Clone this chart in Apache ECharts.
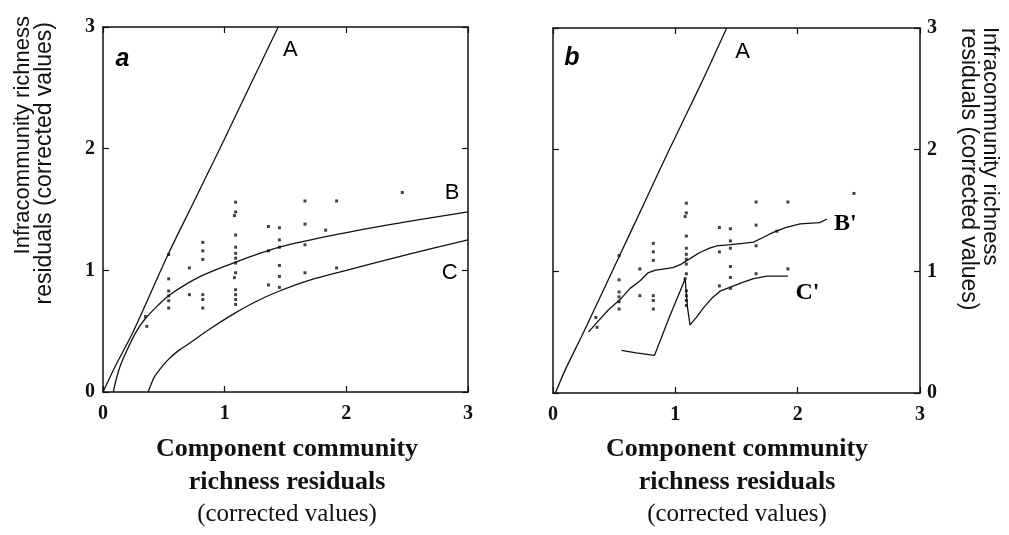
<!DOCTYPE html>
<html><head><meta charset="utf-8">
<script src="https://cdn.jsdelivr.net/npm/echarts@6.0.0/dist/echarts.min.js"></script>
<style>html,body{margin:0;padding:0;background:#fff}#c{width:1009px;height:535px}</style>
</head><body><div id="c"></div><script>
// ---- data ----
const axisTicks = [0, 1, 2, 3];
// observed points (same sample in both panels)
const points = [
  [0.35,0.62],[0.36,0.54],
  [0.54,1.13],[0.54,0.93],[0.54,0.83],[0.54,0.79],[0.54,0.75],[0.54,0.69],
  [0.71,1.02],[0.71,0.80],
  [0.82,1.23],[0.82,1.16],[0.82,1.09],[0.82,0.80],[0.82,0.76],[0.82,0.69],
  [1.09,1.56],[1.09,1.48],[1.08,1.45],[1.09,1.29],[1.09,1.19],[1.09,1.14],[1.09,1.10],
  [1.09,1.06],[1.09,0.98],[1.08,0.94],[1.09,0.84],[1.09,0.80],[1.09,0.76],[1.09,0.72],
  [1.36,1.36],[1.36,1.16],[1.36,0.88],
  [1.45,1.35],[1.45,1.25],[1.45,1.19],[1.45,1.04],[1.45,0.95],[1.45,0.86],
  [1.66,1.57],[1.66,1.38],[1.66,1.21],[1.66,0.98],
  [1.83,1.33],
  [1.92,1.57],[1.92,1.02],
  [2.46,1.64]
];
// panel a curves
const curveA_a = [[0,0],[0.1,0.21],[0.25,0.5],[0.53,1.12],[0.75,1.57],[0.96,2.0],[1.2,2.5],[1.44,3.0]];
const curveB = [[0.085,0],[0.1,0.07],[0.14,0.21],[0.2,0.35],[0.27,0.49],[0.345,0.6],[0.45,0.71],[0.55,0.8],
  [0.8,0.95],[1.07,1.06],[1.45,1.19],[2.0,1.31],[2.5,1.4],[3.0,1.48]];
const curveC = [[0.37,0],[0.39,0.05],[0.42,0.12],[0.47,0.19],[0.53,0.26],[0.62,0.34],[0.71,0.40],[0.85,0.50],[1.07,0.64],
  [1.25,0.74],[1.45,0.83],[1.7,0.92],[2.0,1.0],[2.5,1.13],[3.0,1.25]];
// panel b curves
const curveA_b = [[0.02,0],[0.1,0.19],[0.25,0.5],[0.54,1.12],[0.75,1.57],[0.95,2.0],[1.2,2.52],[1.42,3.0]];
const curveBp = [[0.29,0.5],[0.36,0.58],[0.45,0.68],[0.55,0.77],[0.63,0.86],[0.71,0.92],[0.78,0.99],[0.84,1.01],
  [0.98,1.03],[1.05,1.06],[1.08,1.08],[1.20,1.155],[1.28,1.19],[1.34,1.21],[1.45,1.22],[1.55,1.23],[1.64,1.24],
  [1.72,1.28],[1.80,1.32],[1.90,1.36],[2.02,1.39],[2.18,1.40],[2.24,1.43]];
const curveCp = [[0.56,0.35],[0.68,0.33],[0.83,0.31],[0.95,0.62],[1.065,0.90],[1.08,0.94],[1.10,0.70],[1.12,0.56],
  [1.17,0.62],[1.23,0.70],[1.30,0.78],[1.37,0.84],[1.45,0.87],[1.55,0.91],[1.64,0.94],[1.75,0.96],[1.92,0.96]];

// ---- chart ----
const INK = '#111';
const tickFont = {fontFamily:'Liberation Serif', fontWeight:'bold', fontSize:20, color:INK};
function ax(grid, pos, showLabel, margin) {
  return {
    type:'value', gridIndex:grid, position:pos, min:axisTicks[0], max:axisTicks[axisTicks.length-1], interval:1,
    axisLine:{show:true, onZero:false, lineStyle:{color:INK, width:1.5}},
    axisTick:{show:true, inside:true, length:6, lineStyle:{color:INK, width:1.2}},
    splitLine:{show:false},
    axisLabel: Object.assign({show:showLabel, margin:margin, formatter:v=>String(v)}, tickFont)
  };
}
const lineStyle = {color:INK, width:1.3};
function curve(data, xi, yi, smooth) {
  return {type:'line', data, xAxisIndex:xi, yAxisIndex:yi, symbol:'none', smooth:smooth,
    lineStyle, silent:true, clip:true, z:3};
}
function dots(xi, yi) {
  return {type:'scatter', data:points, xAxisIndex:xi, yAxisIndex:yi, symbol:'rect', symbolSize:3,
    itemStyle:{color:INK}, silent:true, z:4};
}
function lab(text, x, y, font) {
  return {value:[x,y], name:text, label:Object.assign({show:true, position:'inside', formatter:'{b}', color:'#000',
    textBorderWidth:0, textBorderColor:'transparent', opacity:1}, font)};
}
const sansL = {fontFamily:'Liberation Sans', fontSize:22};
const serifL = {fontFamily:'Liberation Serif', fontWeight:'bold', fontSize:24};
const italicL = {fontFamily:'Liberation Sans', fontWeight:'bold', fontStyle:'italic', fontSize:25};
const yTitleFont1 = '22px "Liberation Sans"';
const yTitleFont2 = '23px "Liberation Sans"';
const xTitleBold = 'bold 26px "Liberation Serif"';
const xTitleReg = '25px "Liberation Serif"';

const chart = echarts.init(document.getElementById('c'), null, {renderer:'canvas'});
chart.setOption({
  backgroundColor:'#fff',
  animation:false,
  grid:[
    {left:103, top:27, width:365, height:365},
    {left:553, top:28, width:367, height:365}
  ],
  xAxis:[ax(0,'bottom',true,12), ax(0,'top',false,8), ax(1,'bottom',true,12), ax(1,'top',false,8)],
  yAxis:[ax(0,'left',true,8), ax(0,'right',false,8), ax(1,'left',false,8), ax(1,'right',true,7)],
  series:[
    curve(curveA_a,0,0,0.3), curve(curveB,0,0,0.3), curve(curveC,0,0,0.3), dots(0,0),
    curve(curveA_b,2,2,0.3), curve(curveBp,2,2,false), curve(curveCp,2,2,false), dots(2,2),
    {type:'scatter', xAxisIndex:0, yAxisIndex:0, symbolSize:0, silent:true, z:5, itemStyle:{color:'#000'},
      data:[lab('a',0.16,2.74,italicL), lab('A',1.54,2.81,sansL), lab('B',2.87,1.64,sansL), lab('C',2.85,0.98,sansL)]},
    {type:'scatter', xAxisIndex:2, yAxisIndex:2, symbolSize:0, silent:true, z:5, itemStyle:{color:'#000'},
      data:[lab('b',0.155,2.75,italicL), lab('A',1.55,2.80,sansL), lab("B'",2.39,1.39,serifL), lab("C'",2.08,0.82,serifL)]}
  ],
  graphic:[
    {type:'text', x:23, y:16, rotation:Math.PI/2, style:{text:'Infracommunity richness', font:yTitleFont1, fill:INK, align:'right', verticalAlign:'middle'}},
    {type:'text', x:45, y:22, rotation:Math.PI/2, style:{text:'residuals (corrected values)', font:yTitleFont2, fill:INK, align:'right', verticalAlign:'middle'}},
    {type:'text', x:990, y:27, rotation:-Math.PI/2, style:{text:'Infracommunity richness', font:yTitleFont1, fill:INK, align:'left', verticalAlign:'middle'}},
    {type:'text', x:968, y:28, rotation:-Math.PI/2, style:{text:'residuals (corrected values)', font:yTitleFont2, fill:INK, align:'left', verticalAlign:'middle'}},
    {type:'text', x:287, y:449, style:{text:'Component community', font:xTitleBold, fill:INK, align:'center', verticalAlign:'middle'}},
    {type:'text', x:287, y:482, style:{text:'richness residuals', font:xTitleBold, fill:INK, align:'center', verticalAlign:'middle'}},
    {type:'text', x:287, y:514, style:{text:'(corrected values)', font:xTitleReg, fill:INK, align:'center', verticalAlign:'middle'}},
    {type:'text', x:737, y:449, style:{text:'Component community', font:xTitleBold, fill:INK, align:'center', verticalAlign:'middle'}},
    {type:'text', x:737, y:482, style:{text:'richness residuals', font:xTitleBold, fill:INK, align:'center', verticalAlign:'middle'}},
    {type:'text', x:737, y:514, style:{text:'(corrected values)', font:xTitleReg, fill:INK, align:'center', verticalAlign:'middle'}}
  ]
});
</script></body></html>
